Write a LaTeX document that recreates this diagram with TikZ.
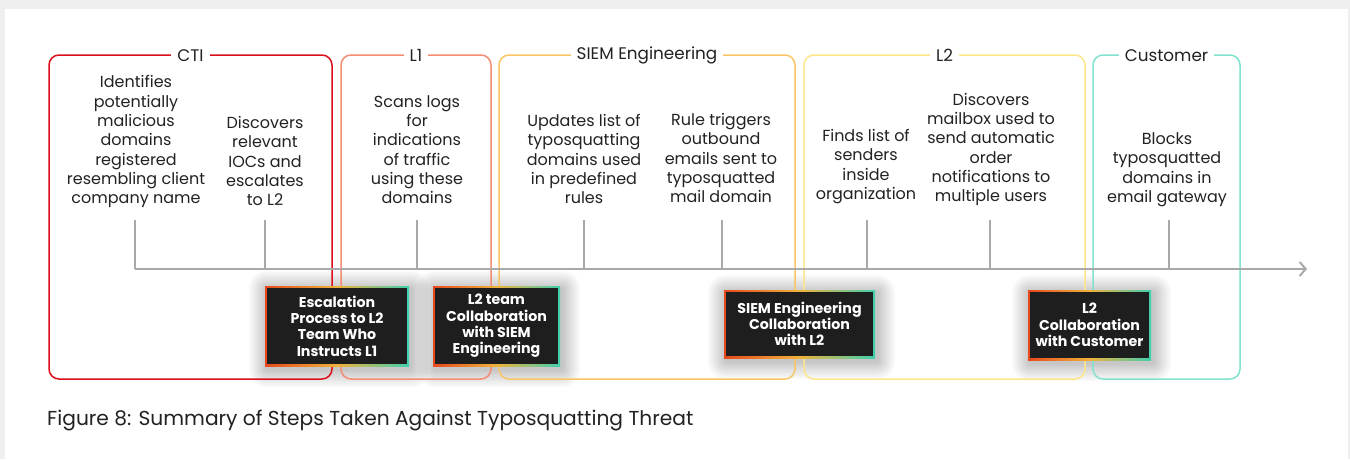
\documentclass[tikz,border=0pt]{standalone}
\usepackage{fontspec}
\setmainfont{Poppins}
\usetikzlibrary{arrows.meta}

\definecolor{pagegrey}{HTML}{EFEFEF}
\definecolor{inkdark}{HTML}{222222}
\definecolor{axisgrey}{HTML}{A9A9A9}
\definecolor{ctired}{HTML}{DC0F1A}
\definecolor{lonesalmon}{HTML}{F58D72}
\definecolor{siemorange}{HTML}{FBC566}
\definecolor{ltwoyellow}{HTML}{FDE68A}
\definecolor{custteal}{HTML}{80E2CF}
\definecolor{carddark}{HTML}{1E1E1E}
\definecolor{edgeleft}{HTML}{E8491C}
\definecolor{edgemid}{HTML}{EFB23A}
\definecolor{edgeright}{HTML}{3FCFAE}

\pgfdeclarelayer{pagelayer}
\pgfdeclarelayer{shadowlayer}
\pgfsetlayers{pagelayer,shadowlayer,main}

\tikzset{
  phase/.style={draw=#1, line width=1.5pt, rounded corners=10pt, inner sep=0pt},
  phaselabel/.style={fill=white, inner xsep=6pt, inner ysep=1pt, text=inkdark,
    yshift=-1.5pt, font=\fontsize{16.8}{19}\selectfont},
  desc/.style={anchor=south, align=center, inner sep=0pt, text=inkdark,
    font=\fontsize{16}{19.3}\selectfont},
  tick/.style={draw=axisgrey, line width=1.5pt},
  axisline/.style={draw=axisgrey, line width=2.5pt,
    -{Straight Barb[length=6pt,width=14pt,line width=2pt]}},
  card/.style={inner sep=0pt, align=center, text=white,
    font=\fontsize{14.2}{16.3}\selectfont\bfseries,
    left color=edgeleft, right color=edgeright, middle color=edgemid,
    path picture={\fill[carddark]
      ([shift={(1.6pt,-1.6pt)}]path picture bounding box.north west) rectangle
      ([shift={(-1.6pt,1.6pt)}]path picture bounding box.south east);}},
  softshade/.style={fill=black, opacity=0.014},
}

\begin{document}
\begin{tikzpicture}[x=1pt,y=-1pt]
  % page and white card
  \useasboundingbox (0,0) rectangle (1350,459);
  \begin{pgfonlayer}{pagelayer}
    \fill[pagegrey] (0,0) rectangle (1350,459);
    \fill[white] (5,9) rectangle (1348,459);
  \end{pgfonlayer}

  % phase frames
  \node[phase=ctired, minimum width=283pt, minimum height=324pt] (fcti) at (190.5,217) {};
  \node[phase=lonesalmon, minimum width=150pt, minimum height=324pt] (fl1) at (416,217) {};
  \node[phase=siemorange, minimum width=296pt, minimum height=324pt] (fsiem) at (647,217) {};
  \node[phase=ltwoyellow, minimum width=281pt, minimum height=324pt] (fl2) at (944.5,217) {};
  \node[phase=custteal, minimum width=147pt, minimum height=324pt] (fcust) at (1166.5,217) {};

  \node[phaselabel] (lcti) at (fcti.north) {CTI};
  \node[phaselabel] (ll1) at (fl1.north) {L1};
  \node[phaselabel] (lsiem) at (fsiem.north) {SIEM Engineering};
  \node[phaselabel] (ll2) at (fl2.north) {L2};
  \node[phaselabel] (lcust) at (fcust.north) {Customer};

  % timeline
  \coordinate (ax0) at (135,269);
  \coordinate (ax1) at (1307,269);
  \draw[axisline] (ax0) -- (ax1);

  % step descriptions
  \node[desc] (d1) at (136,208) {Identifies\\potentially\\malicious\\domains\\registered\\resembling client\\company name};
  \node[desc] (d2) at (265,206) {Discovers\\relevant\\IOCs and\\escalates\\to L2};
  \node[desc] (d3) at (417,204) {Scans logs\\for\\indications\\of traffic\\using these\\domains};
  \node[desc] (d4) at (584,204) {Updates list of\\typosquatting\\domains used\\in predefined\\rules};
  \node[desc] (d5) at (721,203) {Rule triggers\\outbound\\emails sent to\\typosquatted\\mail domain};
  \node[desc] (d6) at (866,204) {Finds list of\\senders\\inside\\organization};
  \node[desc] (d7) at (991,206) {Discovers\\mailbox used to\\send automatic\\order\\notifications to\\multiple users};
  \node[desc] (d8) at (1167,207) {Blocks\\typosquatted\\domains in\\email gateway};

  % ticks from each step down to the timeline
  \foreach \n/\x in {1/135,2/265,3/417,4/584,5/722,6/867,7/990,8/1169} {
    \coordinate (k\n) at (\x,220);
    \draw[tick] (k\n) -- (k\n |- ax0);
  }

  % hand-over cards
  \node[card, minimum width=144pt, minimum height=80pt] (c1) at (337,326)
    {Escalation\\Process to L2\\Team Who\\Instructs L1};
  \node[card, minimum width=127pt, minimum height=80pt] (c2) at (496.5,326)
    {L2 team\\Collaboration\\with SIEM\\Engineering};
  \node[card, minimum width=151pt, minimum height=68pt] (c3) at (799.5,324)
    {SIEM Engineering\\Collaboration\\with L2};
  \node[card, minimum width=123pt, minimum height=70pt] (c4) at (1089.5,325)
    {L2\\Collaboration\\with Customer};

  % soft drop shadows under the cards
  \begin{pgfonlayer}{shadowlayer}
    \foreach \c in {c1,c2,c3,c4} {
      \foreach \i in {1,...,14} {
        \fill[softshade, rounded corners=1.3*\i pt]
          ([shift={(2pt-1.3*\i pt,-3pt+1.3*\i pt)}]\c.north west) rectangle
          ([shift={(2pt+1.3*\i pt,-3pt-1.3*\i pt)}]\c.south east);
      }
    }
  \end{pgfonlayer}

  % caption
  \node[anchor=west, inner sep=0pt, text=inkdark, font=\fontsize{20.2}{24}\selectfont]
    (cap) at (47,421) {Figure 8: Summary of Steps Taken Against Typosquatting Threat};
\end{tikzpicture}
\end{document}
